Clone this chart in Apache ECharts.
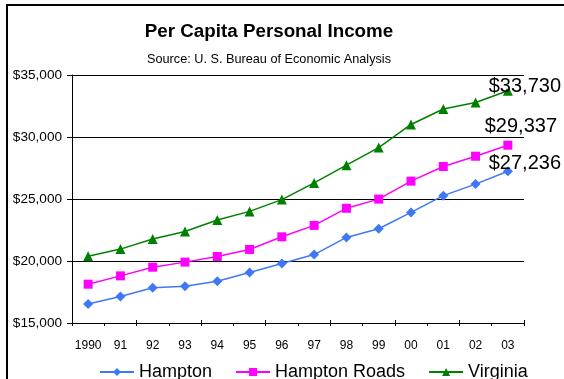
<!DOCTYPE html>
<html>
<head>
<meta charset="utf-8">
<script src="https://cdn.jsdelivr.net/npm/echarts@6/dist/echarts.min.js"></script>
<style>
  html, body { margin: 0; padding: 0; background: #fff; }
  #chart { width: 564px; height: 379px; }
</style>
</head>
<body>
<div id="chart"></div>
<script>
// Per capita personal income, 1990-2003
const years = ['1990', '91', '92', '93', '94', '95', '96', '97', '98', '99', '00', '01', '02', '03'];
const hampton = [16540, 17130, 17850, 17970, 18370, 19070, 19800, 20520, 21900, 22600, 23920, 25270, 26200, 27236];
const hamptonRoads = [18130, 18800, 19500, 19910, 20360, 20930, 21950, 22870, 24250, 24990, 26440, 27620, 28450, 29337];
const virginia = [20390, 20960, 21770, 22380, 23310, 24000, 24950, 26300, 27730, 29150, 31010, 32260, 32780, 33730];
const yTicks = { min: 15000, max: 35000, step: 5000 };

const FONT = 'Liberation Sans, Arial, sans-serif';
const money = v => '$' + v.toLocaleString('en-US');

// Put a value label on the final point of a series only
function withEndLabel(values, offset, extra) {
  return values.map((v, i) => i === values.length - 1
    ? { value: v, label: Object.assign({
        show: true, position: 'top', offset: offset,
        formatter: p => money(p.value),
        fontFamily: FONT, fontSize: 20, color: '#000'
      }, extra || {}) }
    : v);
}

const chart = echarts.init(document.getElementById('chart'), null, { renderer: 'canvas' });

const lineSeries = (name, values, color, symbol, size, offset, extra) => ({
  name: name,
  type: 'line',
  data: withEndLabel(values, offset, extra),
  symbol: symbol,
  symbolSize: size,
  showAllSymbol: true,
  lineStyle: { color: color, width: 1.5 },
  itemStyle: { color: color },
  emphasis: { disabled: true },
  animation: false
});

chart.setOption({
  backgroundColor: '#fff',
  animation: false,
  title: [{
    text: 'Per Capita Personal Income',
    left: 264, top: 17, textAlign: 'center',
    textStyle: { fontFamily: FONT, fontSize: 18.8, fontWeight: 'bold', color: '#000' }
  }, {
    text: 'Source: U. S. Bureau of Economic Analysis',
    left: 264, top: 48, textAlign: 'center',
    textStyle: { fontFamily: FONT, fontSize: 12.7, fontWeight: 'normal', color: '#000' }
  }],
  legend: {
    data: ['Hampton', 'Hampton Roads', 'Virginia'],
    left: 94, top: 358,
    itemWidth: 34, itemHeight: 10, itemGap: 23,
    textStyle: { fontFamily: FONT, fontSize: 18, color: '#000' }
  },
  grid: { left: 72, right: 40, top: 75, bottom: 56, containLabel: false },
  xAxis: [{
    type: 'category',
    data: years,
    boundaryGap: true,
    axisLine: { lineStyle: { color: '#000', width: 1 } },
    axisTick: { show: true, length: 3, lineStyle: { color: '#000' } },
    axisLabel: { interval: 0, fontFamily: FONT, fontSize: 12, color: '#000', margin: 17 }
  }, {
    type: 'category',
    data: years,
    position: 'bottom',
    boundaryGap: true,
    axisLine: { show: false },
    axisTick: { show: true, inside: true, length: 3, lineStyle: { color: '#000' } },
    axisLabel: { show: false }
  }],
  yAxis: {
    type: 'value',
    min: yTicks.min, max: yTicks.max, interval: yTicks.step,
    axisLine: { show: true, lineStyle: { color: '#000', width: 1 } },
    axisTick: { show: true, length: 5, lineStyle: { color: '#000' } },
    axisLabel: { fontFamily: FONT, fontSize: 13.6, color: '#000', margin: 10, formatter: v => money(v) },
    splitLine: { lineStyle: { color: '#000', width: 1 } }
  },
  series: [
    lineSeries('Hampton', hampton, '#3F78F5', 'diamond', 10, [17, 12]),
    lineSeries('Hampton Roads', hamptonRoads, '#FF00FF', 'rect', 9, [13, 1]),
    lineSeries('Virginia', virginia, '#008000', 'triangle', 10, [17, 8],
      { backgroundColor: '#fff', lineHeight: 4, padding: [6, 0, 0, 0] })
  ],
  graphic: [{
    type: 'rect',
    shape: { x: 7, y: 5, width: 620, height: 420 },
    style: { fill: null, stroke: '#000', lineWidth: 2 },
    silent: true,
    z: 100
  }]
});
</script>
</body>
</html>
